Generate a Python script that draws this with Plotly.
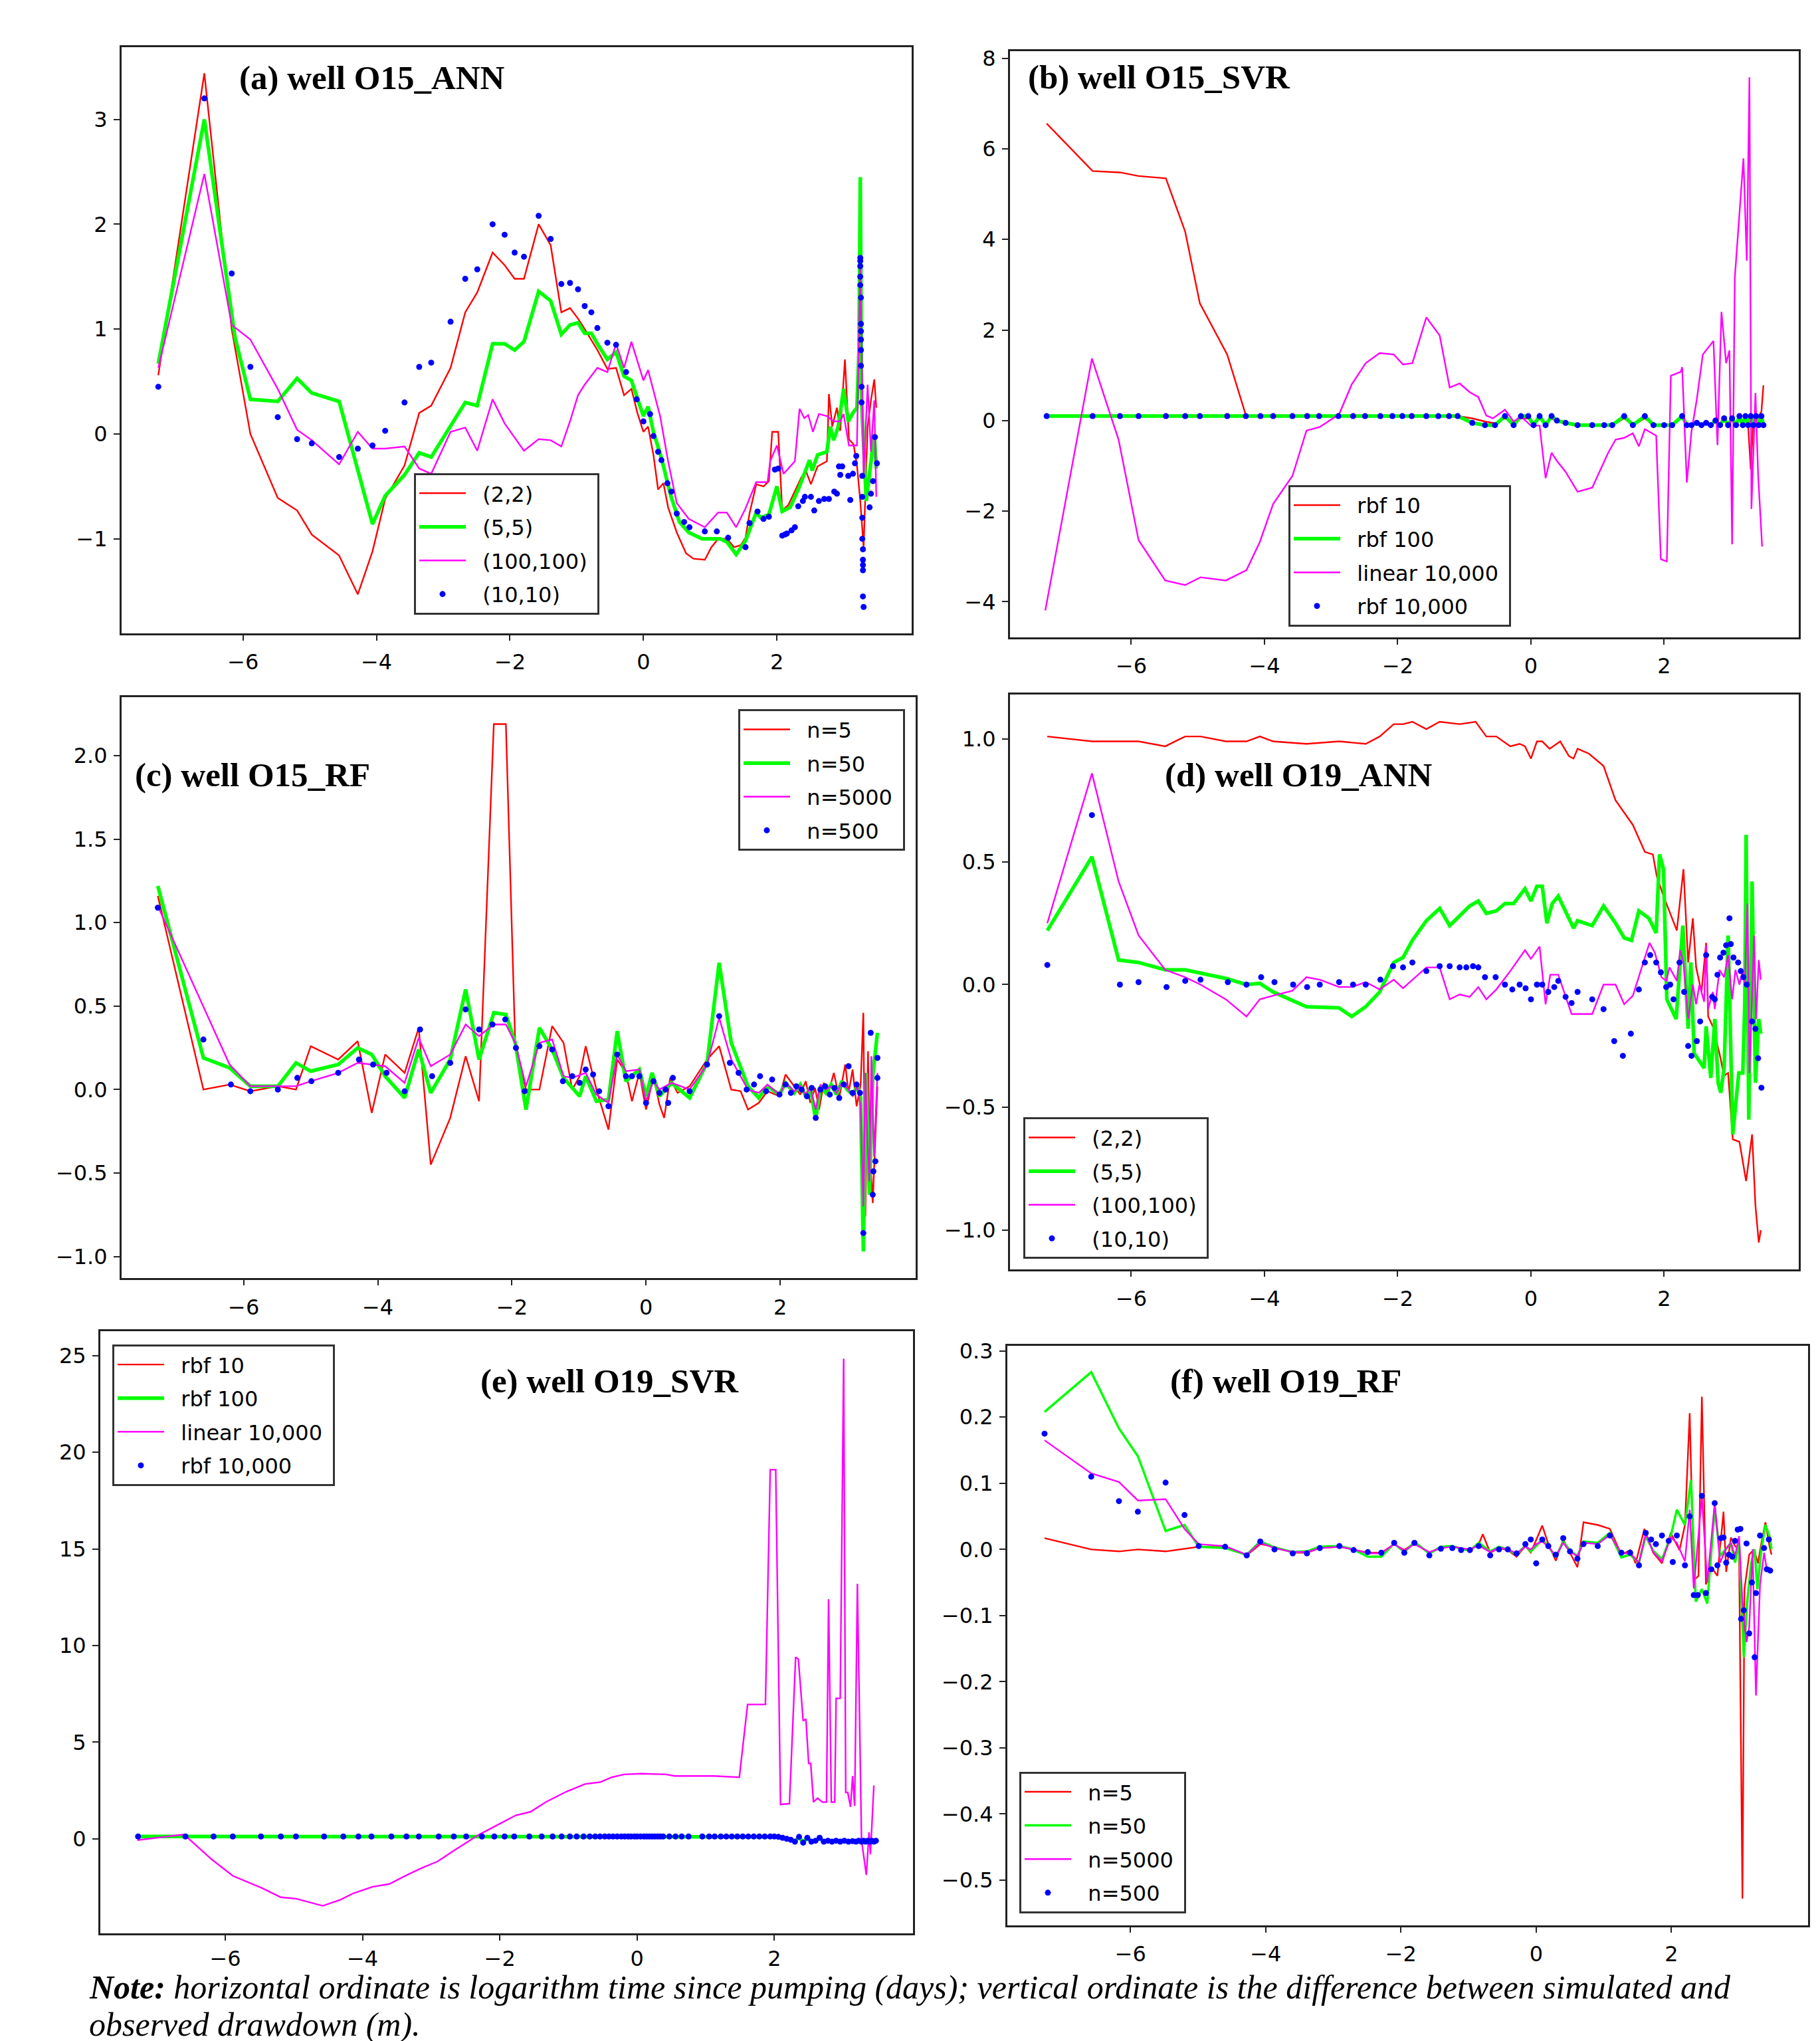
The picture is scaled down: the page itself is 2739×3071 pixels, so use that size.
import plotly.graph_objects as go

# ---------------- data: panel (a) well O15_ANN ----------------
a_red_x = [-7.27, -6.58, -6.17, -5.89, -5.48, -5.19, -4.97, -4.56, -4.28, -4.06,
           -3.87, -3.58, -3.36, -3.18, -2.89, -2.67, -2.49, -2.26, -2.08, -1.93,
           -1.79, -1.57, -1.39, -1.23, -1.10, -0.98, -0.88, -0.69, -0.54, -0.41,
           -0.29, -0.18, -0.09, 0.00, 0.07, 0.15, 0.22, 0.30, 0.37, 0.50,
           0.64, 0.75, 0.92, 1.02, 1.12, 1.25, 1.36, 1.46, 1.53, 1.59,
           1.69, 1.80, 1.88, 1.93, 2.02, 2.08, 2.17, 2.37, 2.44, 2.51,
           2.58, 2.61, 2.75, 2.78, 2.83, 2.90, 2.95, 3.02, 3.08, 3.15,
           3.20, 3.25, 3.30, 3.36, 3.41, 3.46, 3.49]
a_red_y = [0.56, 3.44, 1.00, 0.00, -0.61, -0.73, -0.96, -1.16, -1.53, -1.12,
           -0.62, -0.30, 0.20, 0.27, 0.63, 1.16, 1.35, 1.73, 1.61, 1.48,
           1.48, 2.00, 1.80, 1.16, 1.20, 1.10, 1.00, 0.80, 0.62, 0.63,
           0.37, 0.43, 0.20, 0.02, 0.07, -0.20, -0.53, -0.47, -0.70, -0.94,
           -1.14, -1.19, -1.20, -1.08, -1.00, -1.00, -1.08, -1.06, -0.99, -0.76,
           -0.48, -0.50, -0.45, 0.02, 0.02, -0.73, -0.68, -0.41, -0.36, -0.48,
           -0.36, -0.31, -0.26, 0.38, 0.07, 0.25, 0.03, 0.71, -0.05, -0.10,
           -0.30, -0.64, -1.08, 0.07, 0.32, 0.52, 0.25]
a_green_x = [-7.27, -6.58, -6.12, -5.89, -5.48, -5.19, -4.97, -4.56, -4.06, -3.87,
             -3.58, -3.36, -3.18, -2.89, -2.67, -2.49, -2.26, -2.08, -1.93, -1.79,
             -1.57, -1.39, -1.23, -1.10, -0.98, -0.88, -0.78, -0.69, -0.54, -0.41,
             -0.29, -0.18, 0.00, 0.07, 0.15, 0.27, 0.41, 0.54, 0.68, 0.88,
             1.15, 1.25, 1.39, 1.53, 1.69, 1.76, 1.88, 2.00, 2.08, 2.20,
             2.34, 2.49, 2.53, 2.61, 2.75, 2.80, 2.85, 2.92, 3.00, 3.07,
             3.14, 3.20, 3.23, 3.25, 3.27, 3.34, 3.39, 3.46, 3.49]
a_green_y = [0.67, 3.00, 0.92, 0.33, 0.31, 0.53, 0.39, 0.31, -0.86, -0.59,
             -0.39, -0.18, -0.22, 0.08, 0.30, 0.27, 0.86, 0.86, 0.80, 0.88,
             1.36, 1.27, 0.95, 1.04, 1.06, 0.96, 0.96, 0.86, 0.71, 0.78,
             0.55, 0.51, 0.17, 0.26, 0.02, -0.23, -0.59, -0.84, -0.94, -1.00,
             -1.00, -1.03, -1.15, -1.02, -0.75, -0.80, -0.77, -0.50, -0.74, -0.70,
             -0.50, -0.25, -0.35, -0.20, -0.17, 0.07, -0.06, 0.07, 0.43, 0.12,
             0.20, 0.25, 0.79, 2.45, 0.30, -0.64, -0.34, 0.00, -0.33]
a_mag_x = [-7.27, -6.58, -6.17, -5.89, -5.48, -5.19, -4.97, -4.56, -4.28, -4.06,
           -3.87, -3.58, -3.36, -3.18, -2.89, -2.67, -2.49, -2.26, -2.08, -1.79,
           -1.57, -1.39, -1.23, -1.10, -0.98, -0.88, -0.69, -0.54, -0.41, -0.29,
           -0.18, 0.00, 0.07, 0.25, 0.37, 0.50, 0.68, 0.92, 1.12, 1.25,
           1.39, 1.53, 1.69, 1.86, 1.90, 2.00, 2.10, 2.27, 2.34, 2.41,
           2.47, 2.54, 2.63, 2.75, 2.85, 2.95, 3.00, 3.08, 3.20, 3.25,
           3.30, 3.36, 3.41, 3.46, 3.49]
a_mag_y = [0.63, 2.48, 1.04, 0.90, 0.43, 0.04, -0.06, -0.29, 0.02, -0.14,
           -0.14, -0.12, -0.33, -0.38, 0.02, 0.06, -0.16, 0.33, 0.10, -0.16,
           -0.05, -0.06, -0.12, 0.12, 0.37, 0.47, 0.63, 0.59, 0.86, 0.63,
           0.88, 0.51, 0.61, 0.17, -0.26, -0.66, -0.81, -0.89, -0.75, -0.75,
           -0.89, -0.71, -0.46, -0.46, -0.26, -0.11, -0.38, -0.26, 0.24, 0.15,
           0.18, 0.02, 0.19, 0.17, 0.12, 0.12, 0.19, -0.11, -0.11, 1.60,
           -0.40, 0.47, -0.17, 0.32, -0.60]
a_dot_x = [-7.27, -6.58, -6.17, -5.89, -5.48, -5.19, -4.97, -4.56, -4.28, -4.06,
           -3.87, -3.58, -3.36, -3.18, -2.89, -2.67, -2.49, -2.26, -2.08, -1.93,
           -1.79, -1.57, -1.39, -1.23, -1.10, -0.98, -0.88, -0.78, -0.69, -0.54,
           -0.41, -0.26, -0.10, 0.00, 0.10, 0.15, 0.22, 0.27, 0.36, 0.42,
           0.50, 0.61, 0.69, 0.92, 1.10, 1.27, 1.53, 1.59, 1.71, 1.80,
           1.88, 1.97, 2.02, 2.08, 2.12, 2.15, 2.22, 2.27, 2.32, 2.39,
           2.42, 2.51, 2.56, 2.63, 2.71, 2.78, 2.86, 2.90, 2.93, 2.95,
           2.98, 3.07, 3.10, 3.14, 3.17, 3.19, 3.25, 3.25, 3.25, 3.25,
           3.25, 3.26, 3.26, 3.26, 3.26, 3.26, 3.26, 3.27, 3.27, 3.28,
           3.28, 3.28, 3.28, 3.29, 3.29, 3.29, 3.29, 3.29, 3.30, 3.39,
           3.41, 3.44, 3.47, 3.50]
a_dot_y = [0.45, 3.20, 1.53, 0.64, 0.16, -0.05, -0.09, -0.22, -0.14, -0.11,
           0.03, 0.30, 0.64, 0.68, 1.07, 1.48, 1.57, 2.00, 1.90, 1.73,
           1.69, 2.08, 1.86, 1.43, 1.44, 1.38, 1.22, 1.16, 1.01, 0.87,
           0.85, 0.59, 0.33, 0.12, 0.19, -0.02, -0.17, -0.25, -0.47, -0.55,
           -0.76, -0.84, -0.89, -0.93, -0.93, -0.99, -1.08, -0.85, -0.74, -0.81,
           -0.79, -0.34, -0.33, -0.97, -0.96, -0.95, -0.92, -0.89, -0.69, -0.64,
           -0.60, -0.60, -0.73, -0.64, -0.62, -0.62, -0.55, -0.57, -0.31, -0.39,
           -0.31, -0.40, -0.63, -0.38, -0.28, -0.21, 1.68, 1.65, 1.60, 1.50,
           1.42, 1.30, 1.05, 0.98, 0.90, 0.80, 0.65, 0.45, 0.30, -0.40,
           -0.60, -0.80, -1.00, -1.10, -1.20, -1.25, -1.30, -1.55, -1.65, -0.70,
           -0.57, -0.45, -0.03, -0.28]

# ---------------- data: panel (b) well O15_SVR ----------------
b_x = [-7.27, -6.58, -6.17, -5.89, -5.48, -5.19, -4.97, -4.56, -4.28, -4.06,
       -3.87, -3.58, -3.36, -3.18, -2.89, -2.67, -2.49, -2.26, -2.08, -1.93,
       -1.79, -1.57, -1.39, -1.23, -1.10,
       -0.88, -0.69, -0.54, -0.39, -0.26, -0.15, -0.04, 0.04, 0.13, 0.22,
       0.31, 0.39, 0.52, 0.70, 0.92, 1.10, 1.22, 1.40, 1.53, 1.71,
       1.84, 2.00, 2.12, 2.27, 2.34, 2.41, 2.49, 2.56, 2.63, 2.70,
       2.77, 2.84, 2.90, 2.96, 3.02, 3.08, 3.13, 3.18, 3.22, 3.26,
       3.30, 3.34, 3.38, 3.42, 3.46, 3.49]
b_red_y = [6.56, 5.51, 5.48, 5.40, 5.35, 4.17, 2.59, 1.46, 0.12, 0.10,
           0.10, 0.10, 0.10, 0.10, 0.10, 0.10, 0.10, 0.10, 0.10, 0.10,
           0.10, 0.10, 0.10, 0.10, 0.10,
           0.05, -0.02, -0.06, 0.05, -0.05, 0.05, 0.05, -0.05, 0.05, -0.05,
           0.05, -0.03, -0.05, -0.10, -0.10, -0.10, -0.10, 0.05, -0.10, 0.05,
           -0.10, -0.10, -0.10, 0.10, -0.10, -0.10, -0.05, -0.10, -0.05, -0.10,
           0.00, -0.10, 0.05, -0.10, 0.05, -0.10, 0.10, -0.10, 0.10, -0.10,
           -1.08, 0.10, -0.10, 0.10, 0.20, 0.78]
b_green_y = [0.10, 0.10, 0.10, 0.10, 0.10, 0.10, 0.10, 0.10, 0.10, 0.10,
             0.10, 0.10, 0.10, 0.10, 0.10, 0.10, 0.10, 0.10, 0.10, 0.10,
             0.10, 0.10, 0.10, 0.10, 0.10,
             -0.05, -0.10, -0.10, 0.10, -0.10, 0.10, 0.10, -0.10, 0.10, -0.10,
             0.10, 0.00, -0.05, -0.10, -0.10, -0.10, -0.10, 0.10, -0.10, 0.10,
             -0.10, -0.10, -0.10, 0.10, -0.10, -0.10, -0.05, -0.10, -0.05, -0.10,
             0.00, -0.10, 0.05, -0.10, 0.05, -0.10, 0.10, -0.10, 0.10, -0.10,
             0.10, -0.10, 0.10, -0.10, 0.10, -0.10]
b_dot_y = [0.10, 0.10, 0.10, 0.10, 0.10, 0.10, 0.10, 0.10, 0.10, 0.10,
           0.10, 0.10, 0.10, 0.10, 0.10, 0.10, 0.10, 0.10, 0.10, 0.10,
           0.10, 0.10, 0.10, 0.10, 0.10,
           -0.05, -0.10, -0.10, 0.10, -0.10, 0.10, 0.10, -0.10, 0.10, -0.10,
           0.10, 0.00, -0.05, -0.10, -0.10, -0.10, -0.10, 0.10, -0.10, 0.10,
           -0.10, -0.10, -0.10, 0.10, -0.10, -0.10, -0.05, -0.10, -0.05, -0.10,
           0.00, -0.10, 0.05, -0.10, 0.05, -0.10, 0.10, -0.10, 0.10, -0.10,
           0.10, -0.10, 0.10, -0.10, 0.10, -0.10]
b_mag_x = [-7.29, -6.59, -6.19, -5.89, -5.49, -5.19, -4.96, -4.58, -4.27, -4.07,
           -3.87, -3.58, -3.37, -3.17, -2.88, -2.69, -2.48, -2.27, -2.06, -1.92,
           -1.78, -1.57, -1.37, -1.22, -1.07, -0.92, -0.79, -0.67, -0.57, -0.39,
           -0.26, -0.15, 0.00, 0.13, 0.22, 0.31, 0.39, 0.52, 0.70, 0.92,
           1.16, 1.27, 1.40, 1.53, 1.62, 1.71, 1.88, 1.95, 2.04, 2.10,
           2.25, 2.27, 2.34, 2.41, 2.49, 2.58, 2.74, 2.80, 2.86, 2.93,
           2.98, 3.02, 3.06, 3.15, 3.19, 3.24, 3.28, 3.31, 3.37, 3.41,
           3.47]
b_mag_y = [-4.19, 1.37, -0.42, -2.64, -3.53, -3.63, -3.46, -3.53, -3.30, -2.68,
           -1.84, -1.22, -0.22, -0.14, 0.14, 0.80, 1.27, 1.49, 1.46, 1.24,
           1.27, 2.28, 1.88, 0.73, 0.82, 0.63, 0.52, 0.11, 0.05, 0.24,
           -0.02, 0.09, -0.11, -0.11, -1.27, -0.71, -0.89, -1.13, -1.57, -1.48,
           -0.71, -0.42, -0.38, -0.28, -0.57, -0.19, -0.33, -3.06, -3.11, 0.99,
           1.08, 1.18, -1.37, -0.24, 0.47, 1.46, 1.76, -0.54, 2.40, 1.27,
           1.55, -2.73, 3.15, 4.94, 5.79, 3.53, 7.58, -1.95, 0.61, -1.18,
           -2.78]

# ---------------- data: panel (c) well O15_RF ----------------
c_red_x = [-7.28, -6.60, -6.21, -5.90, -5.49, -5.22, -5.00, -4.59, -4.30, -4.09,
           -3.89, -3.60, -3.39, -3.21, -2.92, -2.69, -2.49, -2.27, -2.09, -1.95,
           -1.79, -1.59, -1.40, -1.23, -1.10, -0.99, -0.90, -0.74, -0.56, -0.43,
           -0.30, -0.21, -0.10, 0.00, 0.11, 0.20, 0.27, 0.36, 0.47, 0.65,
           0.91, 1.09, 1.27, 1.41, 1.52, 1.68, 1.81, 1.99, 2.08, 2.21,
           2.30, 2.38, 2.45, 2.52, 2.58, 2.65, 2.72, 2.80, 2.88, 2.97,
           3.02, 3.08, 3.14, 3.20, 3.24, 3.27, 3.31, 3.33, 3.38, 3.45]
c_red_y = [1.16, 0.00, 0.03, -0.01, 0.02, 0.00, 0.26, 0.18, 0.29, -0.14,
           0.21, 0.10, 0.37, -0.45, -0.17, 0.20, -0.07, 2.19, 2.19, 0.26,
           0.00, 0.00, 0.38, 0.28, 0.00, 0.08, 0.26, 0.00, -0.24, 0.18,
           0.10, -0.07, 0.10, -0.12, 0.08, -0.09, -0.17, 0.07, -0.02, 0.02,
           0.18, 0.26, 0.00, -0.01, -0.12, -0.08, -0.01, -0.04, 0.09, 0.02,
           -0.03, 0.05, -0.08, 0.01, -0.12, 0.04, -0.02, 0.10, -0.05, 0.15,
           -0.02, 0.12, -0.10, 0.03, 0.46, -0.76, 0.23, -0.30, -0.68, 0.02]
c_green_x = [-7.28, -6.60, -6.21, -5.90, -5.49, -5.22, -5.00, -4.59, -4.30, -4.09,
             -3.89, -3.60, -3.39, -3.21, -2.92, -2.69, -2.49, -2.27, -2.09, -1.95,
             -1.79, -1.59, -1.40, -1.23, -0.99, -0.90, -0.74, -0.56, -0.43, -0.30,
             -0.10, 0.00, 0.09, 0.20, 0.38, 0.65, 0.91, 1.09, 1.27, 1.52,
             1.68, 1.81, 1.99, 2.08, 2.21, 2.30, 2.38, 2.45, 2.53, 2.60,
             2.68, 2.76, 2.84, 2.92, 3.00, 3.08, 3.15, 3.20, 3.24, 3.28,
             3.33, 3.38, 3.45]
c_green_y = [1.22, 0.19, 0.13, 0.02, 0.02, 0.16, 0.11, 0.15, 0.25, 0.21,
             0.08, -0.05, 0.24, -0.02, 0.18, 0.60, 0.18, 0.46, 0.45, 0.28,
             -0.12, 0.37, 0.24, 0.07, -0.04, 0.08, -0.07, -0.06, 0.35, 0.05,
             0.12, -0.04, 0.10, -0.04, 0.04, -0.05, 0.16, 0.76, 0.28, 0.02,
             -0.05, 0.02, -0.03, 0.04, -0.02, 0.03, -0.04, 0.01, -0.18, 0.02,
             -0.02, 0.03, -0.03, 0.05, 0.00, -0.03, 0.02, -0.05, -0.97, 0.10,
             -0.63, 0.08, 0.34]
c_mag_x = [-7.28, -6.21, -5.90, -5.22, -5.00, -4.59, -4.30, -3.89, -3.60, -3.39,
           -3.21, -2.92, -2.69, -2.49, -2.27, -2.09, -1.95, -1.79, -1.59, -1.40,
           -1.23, -1.10, -0.90, -0.74, -0.56, -0.43, -0.30, -0.10, 0.00, 0.11,
           0.20, 0.38, 0.65, 0.91, 1.09, 1.27, 1.52, 1.68, 1.81, 1.99,
           2.08, 2.21, 2.30, 2.38, 2.45, 2.53, 2.60, 2.68, 2.76, 2.84,
           2.92, 3.00, 3.08, 3.15, 3.20, 3.24, 3.27, 3.30, 3.33, 3.36,
           3.40, 3.45]
c_mag_y = [1.10, 0.15, 0.02, 0.02, 0.05, 0.10, 0.16, 0.14, 0.04, 0.31,
           0.14, 0.21, 0.39, 0.32, 0.39, 0.39, 0.28, 0.02, 0.28, 0.30,
           0.08, 0.07, 0.10, -0.03, -0.08, 0.21, 0.11, 0.12, -0.07, 0.05,
           0.00, 0.04, 0.00, 0.15, 0.43, 0.18, 0.00, -0.02, 0.03, -0.03,
           0.04, -0.01, 0.02, -0.03, 0.01, -0.12, 0.03, 0.00, 0.02, -0.02,
           0.04, 0.01, -0.04, 0.02, -0.10, -0.70, 0.10, -0.30, -0.55, 0.20,
           -0.40, 0.10]
c_dot_x = [-7.28, -6.60, -6.19, -5.90, -5.49, -5.20, -4.99, -4.59, -4.28, -4.07,
           -3.87, -3.60, -3.37, -3.19, -2.92, -2.69, -2.49, -2.29, -2.10, -1.94,
           -1.81, -1.59, -1.40, -1.24, -1.10, -0.99, -0.90, -0.79, -0.70, -0.56,
           -0.43, -0.30, -0.21, -0.10, 0.00, 0.11, 0.20, 0.29, 0.33, 0.40,
           0.65, 0.91, 1.09, 1.25, 1.38, 1.50, 1.61, 1.70, 1.79, 1.88,
           1.99, 2.08, 2.16, 2.24, 2.32, 2.40, 2.47, 2.53, 2.60, 2.67,
           2.74, 2.81, 2.88, 2.95, 3.02, 3.08, 3.14, 3.19, 3.24, 3.35,
           3.38, 3.39, 3.42, 3.45, 3.45]
c_dot_y = [1.09, 0.30, 0.03, -0.01, 0.00, 0.07, 0.05, 0.10, 0.18, 0.15,
           0.10, -0.01, 0.36, 0.08, 0.16, 0.48, 0.36, 0.39, 0.42, 0.25,
           -0.01, 0.26, 0.24, 0.05, 0.08, 0.04, 0.12, 0.09, -0.01, -0.10,
           0.21, 0.08, 0.08, 0.08, -0.08, 0.05, -0.02, 0.00, -0.08, 0.07,
           -0.01, 0.15, 0.44, 0.16, 0.10, 0.00, 0.03, 0.08, -0.01, 0.06,
           -0.03, 0.03, -0.02, 0.02, 0.00, -0.04, 0.01, -0.17, 0.00, 0.02,
           -0.03, 0.01, -0.05, 0.03, 0.14, -0.02, 0.03, -0.02, -0.86, 0.34,
           -0.63, -0.49, -0.43, 0.19, 0.07]

# ---------------- data: panel (d) well O19_ANN ----------------
d_red_x = [-7.26, -6.59, -6.19, -5.89, -5.49, -5.19, -4.96, -4.58, -4.27, -4.07,
           -3.87, -3.37, -2.88, -2.48, -2.27, -2.06, -1.92, -1.78, -1.57, -1.37,
           -1.07, -0.83, -0.67, -0.52, -0.31, -0.17, -0.09, 0.00, 0.09, 0.17,
           0.28, 0.44, 0.57, 0.64, 0.70, 0.87, 1.09, 1.27, 1.53, 1.71,
           1.83, 1.89, 1.99, 2.19, 2.29, 2.36, 2.43, 2.48, 2.56, 2.63,
           2.66, 2.73, 2.83, 2.90, 2.96, 3.03, 3.13, 3.23, 3.32, 3.37,
           3.42, 3.45]
d_red_y = [1.01, 0.99, 0.99, 0.99, 0.97, 1.01, 1.01, 0.99, 0.99, 1.01,
           0.99, 0.98, 0.99, 0.98, 1.01, 1.06, 1.06, 1.07, 1.04, 1.07,
           1.06, 1.07, 1.01, 1.01, 0.97, 0.98, 0.97, 0.92, 0.99, 0.99,
           0.96, 0.99, 0.93, 0.92, 0.96, 0.94, 0.89, 0.75, 0.65, 0.54,
           0.53, 0.44, 0.36, 0.22, 0.47, 0.09, 0.27, 0.07, -0.03, 0.17,
           -0.13, -0.17, -0.28, -0.37, -0.36, -0.63, -0.64, -0.80, -0.61, -0.90,
           -1.05, -1.00]
d_green_x = [-7.26, -6.59, -6.19, -5.89, -5.49, -5.19, -4.58, -4.27, -4.07, -3.87,
             -3.37, -2.88, -2.69, -2.48, -2.27, -2.06, -1.92, -1.78, -1.57, -1.37,
             -1.22, -1.07, -0.92, -0.79, -0.67, -0.52, -0.39, -0.26, -0.09, 0.00,
             0.09, 0.17, 0.24, 0.32, 0.41, 0.64, 0.70, 0.92, 1.09, 1.27,
             1.40, 1.51, 1.62, 1.77, 1.88, 1.93, 1.99, 2.04, 2.18, 2.28,
             2.36, 2.40, 2.45, 2.60, 2.63, 2.70, 2.76, 2.81, 2.85, 2.90,
             2.96, 3.03, 3.12, 3.18, 3.21, 3.23, 3.27, 3.32, 3.37, 3.42,
             3.45]
d_green_y = [0.22, 0.52, 0.10, 0.09, 0.06, 0.06, 0.025, 0.00, 0.005, -0.03,
             -0.09, -0.095, -0.13, -0.09, -0.03, 0.09, 0.11, 0.18, 0.26, 0.31,
             0.24, 0.28, 0.32, 0.34, 0.29, 0.30, 0.33, 0.33, 0.39, 0.34,
             0.40, 0.40, 0.25, 0.33, 0.36, 0.23, 0.26, 0.24, 0.32, 0.25,
             0.19, 0.18, 0.30, 0.27, 0.21, 0.53, 0.47, -0.06, -0.14, 0.24,
             -0.18, 0.09, -0.28, -0.34, -0.17, -0.38, -0.14, -0.40, -0.44, -0.34,
             0.20, -0.61, -0.36, -0.36, -0.08, 0.61, -0.55, 0.42, -0.40, -0.14,
             -0.20]
d_mag_x = [-7.26, -6.59, -6.19, -5.89, -5.49, -5.19, -4.96, -4.58, -4.27, -4.07,
           -3.87, -3.58, -3.37, -3.17, -2.88, -2.69, -2.48, -2.27, -2.06, -1.92,
           -1.57, -1.37, -1.22, -1.07, -0.92, -0.79, -0.67, -0.52, -0.31, -0.09,
           0.00, 0.13, 0.22, 0.29, 0.41, 0.61, 0.92, 1.09, 1.27, 1.40,
           1.53, 1.78, 1.86, 1.96, 2.03, 2.08, 2.19, 2.24, 2.29, 2.36,
           2.43, 2.48, 2.53, 2.60, 2.63, 2.66, 2.73, 2.76, 2.83, 2.90,
           2.96, 3.02, 3.07, 3.13, 3.18, 3.21, 3.25, 3.28, 3.35, 3.38,
           3.42, 3.45]
d_mag_y = [0.25, 0.86, 0.42, 0.20, 0.06, 0.03, 0.00, -0.06, -0.13, -0.06,
           -0.045, -0.025, 0.03, 0.02, -0.01, -0.01, 0.01, -0.02, 0.02, -0.015,
           0.07, 0.07, -0.06, -0.04, -0.05, -0.01, -0.06, -0.02, 0.055, 0.14,
           0.105, 0.155, -0.08, 0.04, 0.04, -0.12, -0.12, 0.00, 0.00, -0.08,
           -0.045, 0.17, 0.13, 0.03, 0.015, 0.07, 0.015, 0.14, 0.09, -0.14,
           0.00, -0.08, 0.00, -0.07, 0.16, -0.10, -0.03, -0.10, 0.06, 0.03,
           0.12, -0.06, 0.06, 0.00, 0.06, 0.00, 0.33, -0.36, 0.20, -0.14,
           0.10, 0.02]
d_dot_x = [-7.26, -6.59, -6.17, -5.89, -5.47, -5.19, -4.96, -4.55, -4.27, -4.05,
           -3.85, -3.57, -3.36, -3.17, -2.88, -2.67, -2.48, -2.26, -2.07, -1.92,
           -1.78, -1.57, -1.37, -1.22, -1.07, -0.97, -0.87, -0.79, -0.69, -0.53,
           -0.39, -0.28, -0.17, -0.08, 0.00, 0.09, 0.17, 0.26, 0.35, 0.41,
           0.52, 0.61, 0.70, 0.92, 1.09, 1.25, 1.38, 1.50, 1.62, 1.71,
           1.79, 1.88, 1.95, 2.03, 2.09, 2.14, 2.23, 2.30, 2.36, 2.41,
           2.49, 2.54, 2.63, 2.72, 2.76, 2.80, 2.84, 2.89, 2.93, 2.98,
           3.00, 3.04, 3.11, 3.15, 3.19, 3.24, 3.32, 3.37, 3.41, 3.46]
d_dot_y = [0.08, 0.69, 0.00, 0.01, -0.01, 0.015, 0.02, 0.01, 0.00, 0.03,
           0.01, 0.00, -0.01, 0.00, 0.01, 0.00, 0.00, 0.02, 0.075, 0.07,
           0.09, 0.055, 0.075, 0.075, 0.07, 0.07, 0.075, 0.07, 0.03, 0.03,
           0.00, -0.02, 0.00, -0.015, -0.06, 0.00, 0.00, -0.03, -0.01, 0.015,
           -0.05, -0.075, -0.03, -0.06, -0.10, -0.23, -0.29, -0.20, -0.02, 0.09,
           0.12, 0.09, 0.05, -0.01, 0.00, -0.06, 0.09, -0.03, -0.25, -0.29,
           -0.23, -0.15, 0.12, -0.05, -0.06, 0.04, 0.11, 0.13, 0.16, 0.27,
           0.165, 0.11, 0.09, 0.055, 0.03, 0.00, -0.15, -0.18, -0.30, -0.42]

# ---------------- data: panel (e) well O19_SVR ----------------
e_x = [-7.27, -6.58, -6.17, -5.89, -5.48, -5.19, -4.97, -4.56, -4.28, -4.06,
       -3.87, -3.58, -3.36, -3.18, -2.89, -2.67, -2.49, -2.26, -2.08, -1.93,
       -1.79, -1.57, -1.39, -1.23, -1.10, -0.98, -0.88, -0.78, -0.69, -0.61,
       -0.54, -0.47, -0.41, -0.35, -0.29, -0.23, -0.18, -0.13, -0.09, -0.04,
       0.00, 0.05, 0.10, 0.14, 0.18, 0.22, 0.26, 0.30, 0.34, 0.38,
       0.47, 0.56, 0.65, 0.75, 0.95, 1.05, 1.13, 1.22, 1.30, 1.38,
       1.46, 1.54, 1.62, 1.70, 1.78, 1.86, 1.94, 2.00, 2.06, 2.12,
       2.18, 2.24, 2.30, 2.36, 2.42, 2.48, 2.54, 2.60, 2.66, 2.72,
       2.78, 2.84, 2.90, 2.96, 3.02, 3.08, 3.14, 3.19, 3.23, 3.27,
       3.30, 3.33, 3.36, 3.39, 3.42, 3.45, 3.48]
e_red_y = [0.12, 0.12, 0.12, 0.12, 0.12, 0.12, 0.12, 0.12, 0.12, 0.12,
           0.12, 0.12, 0.12, 0.12, 0.12, 0.12, 0.12, 0.12, 0.12, 0.12,
           0.12, 0.12, 0.12, 0.12, 0.12, 0.12, 0.12, 0.12, 0.12, 0.12,
           0.12, 0.12, 0.12, 0.12, 0.12, 0.12, 0.12, 0.12, 0.12, 0.12,
           0.12, 0.12, 0.12, 0.12, 0.12, 0.12, 0.12, 0.12, 0.12, 0.12,
           0.12, 0.12, 0.12, 0.12, 0.12, 0.12, 0.12, 0.12, 0.12, 0.12,
           0.12, 0.12, 0.12, 0.12, 0.12, 0.12, 0.12, 0.12, 0.10, 0.05,
           0.00, -0.05, -0.15, 0.10, -0.20, 0.05, -0.15, -0.10, 0.05, -0.15,
           -0.10, -0.15, -0.10, -0.15, -0.10, -0.15, -0.12, -0.15, -0.10, -0.15,
           -0.10, -0.15, -0.10, -0.15, -0.10, -0.15, -0.10]
e_green_y = [0.12, 0.12, 0.12, 0.12, 0.12, 0.12, 0.12, 0.12, 0.12, 0.12,
             0.12, 0.12, 0.12, 0.12, 0.12, 0.12, 0.12, 0.12, 0.12, 0.12,
             0.12, 0.12, 0.12, 0.12, 0.12, 0.12, 0.12, 0.12, 0.12, 0.12,
             0.12, 0.12, 0.12, 0.12, 0.12, 0.12, 0.12, 0.12, 0.12, 0.12,
             0.12, 0.12, 0.12, 0.12, 0.12, 0.12, 0.12, 0.12, 0.12, 0.12,
             0.12, 0.12, 0.12, 0.12, 0.12, 0.12, 0.12, 0.12, 0.12, 0.12,
             0.12, 0.12, 0.12, 0.12, 0.12, 0.12, 0.12, 0.12, 0.10, 0.05,
             0.00, -0.05, -0.15, 0.10, -0.20, 0.05, -0.15, -0.10, 0.05, -0.15,
             -0.10, -0.15, -0.10, -0.15, -0.10, -0.15, -0.12, -0.15, -0.10, -0.15,
             -0.10, -0.15, -0.10, -0.15, -0.10, -0.15, -0.10]
e_dot_y = [0.12, 0.12, 0.12, 0.12, 0.12, 0.12, 0.12, 0.12, 0.12, 0.12,
           0.12, 0.12, 0.12, 0.12, 0.12, 0.12, 0.12, 0.12, 0.12, 0.12,
           0.12, 0.12, 0.12, 0.12, 0.12, 0.12, 0.12, 0.12, 0.12, 0.12,
           0.12, 0.12, 0.12, 0.12, 0.12, 0.12, 0.12, 0.12, 0.12, 0.12,
           0.12, 0.12, 0.12, 0.12, 0.12, 0.12, 0.12, 0.12, 0.12, 0.12,
           0.12, 0.12, 0.12, 0.12, 0.12, 0.12, 0.12, 0.12, 0.12, 0.12,
           0.12, 0.12, 0.12, 0.12, 0.12, 0.12, 0.12, 0.12, 0.10, 0.05,
           0.00, -0.05, -0.15, 0.10, -0.20, 0.05, -0.15, -0.10, 0.05, -0.15,
           -0.10, -0.15, -0.10, -0.15, -0.10, -0.15, -0.12, -0.15, -0.10, -0.15,
           -0.10, -0.15, -0.10, -0.15, -0.10, -0.15, -0.10]
e_mag_x = [-7.28, -6.60, -6.20, -5.89, -5.47, -5.19, -4.97, -4.58, -4.32, -4.14,
           -3.86, -3.61, -3.35, -3.13, -2.91, -2.65, -2.30, -2.04, -1.77, -1.55,
           -1.33, -1.03, -0.76, -0.54, -0.37, -0.19, 0.07, 0.42, 0.55, 1.12,
           1.49, 1.61, 1.87, 1.94, 2.02, 2.09, 2.22, 2.31, 2.35, 2.42,
           2.46, 2.50, 2.53, 2.57, 2.63, 2.70, 2.76, 2.79, 2.83, 2.88,
           2.90, 2.96, 3.01, 3.04, 3.07, 3.11, 3.14, 3.17, 3.21, 3.27,
           3.34, 3.38, 3.40, 3.45]
e_mag_y = [-0.07, 0.22, -1.06, -1.92, -2.54, -3.03, -3.10, -3.47, -3.15, -2.83,
           -2.49, -2.34, -1.87, -1.50, -1.18, -0.57, 0.22, 0.71, 1.21, 1.40,
           1.90, 2.44, 2.83, 2.93, 3.18, 3.33, 3.37, 3.33, 3.25, 3.25,
           3.18, 6.95, 6.95, 19.10, 19.10, 1.77, 1.82, 9.40, 9.30, 6.10,
           6.20, 3.90, 3.90, 1.90, 2.10, 1.90, 1.90, 12.40, 1.90, 1.90,
           7.27, 7.27, 24.85, 2.40, 2.40, 1.65, 3.25, 1.70, 13.20, -0.07,
           -1.87, 0.34, -0.81, 2.76]

# ---------------- data: panel (f) well O19_RF ----------------
f_red_x = [-7.27, -6.58, -6.17, -5.89, -5.48, -5.20, -4.99, -4.60, -4.28, -4.08,
           -3.87, -3.60, -3.39, -3.20, -2.91, -2.70, -2.49, -2.29, -2.10, -1.95,
           -1.80, -1.58, -1.41, -1.24, -1.11, -0.98, -0.85, -0.79, -0.68, -0.55,
           -0.42, -0.29, -0.16, -0.08, 0.09, 0.18, 0.29, 0.40, 0.50, 0.61,
           0.70, 0.91, 1.09, 1.26, 1.39, 1.47, 1.60, 1.73, 1.86, 1.99,
           2.12, 2.20, 2.27, 2.33, 2.40, 2.45, 2.51, 2.59, 2.68, 2.77,
           2.81, 2.88, 2.94, 3.00, 3.05, 3.08, 3.15, 3.22, 3.28, 3.33,
           3.39, 3.45, 3.48]
f_red_y = [0.017, 0.000, -0.003, 0.000, -0.003, 0.001, 0.004, 0.004, -0.009, 0.008,
           0.004, -0.005, -0.005, 0.002, 0.004, 0.000, -0.005, -0.005, 0.008, -0.001,
           0.010, -0.005, 0.002, 0.005, 0.002, -0.001, 0.008, 0.023, -0.005, 0.002,
           -0.001, -0.011, 0.005, -0.005, 0.036, 0.008, -0.017, 0.015, -0.005, -0.027,
           0.041, 0.037, 0.031, -0.008, -0.001, -0.021, 0.031, -0.005, -0.021, 0.025,
           -0.001, 0.037, 0.206, -0.047, -0.040, 0.231, -0.053, -0.027, -0.040, 0.057,
           -0.034, 0.018, 0.005, 0.000, -0.528, -0.060, -0.008, 0.000, -0.021, 0.010,
           0.041, 0.005, -0.008]
f_green_x = [-7.27, -6.58, -6.17, -5.89, -5.48, -5.20, -4.99, -4.60, -4.28, -4.08,
             -3.87, -3.60, -3.39, -3.20, -2.91, -2.70, -2.49, -2.29, -2.10, -1.95,
             -1.80, -1.58, -1.41, -1.24, -1.11, -0.98, -0.85, -0.68, -0.55, -0.42,
             -0.29, -0.16, -0.08, 0.09, 0.18, 0.29, 0.40, 0.50, 0.61, 0.70,
             0.91, 1.09, 1.26, 1.39, 1.52, 1.62, 1.73, 1.86, 1.99, 2.08,
             2.20, 2.29, 2.36, 2.45, 2.53, 2.64, 2.72, 2.80, 2.88, 2.94,
             3.00, 3.07, 3.12, 3.18, 3.23, 3.27, 3.33, 3.39, 3.45, 3.48]
f_green_y = [0.208, 0.268, 0.183, 0.141, 0.028, 0.037, 0.004, 0.002, -0.008, 0.012,
             0.003, -0.004, -0.003, 0.004, 0.005, 0.000, -0.011, -0.011, 0.009, -0.004,
             0.011, -0.006, 0.004, 0.005, 0.001, -0.002, 0.010, -0.003, 0.004, 0.000,
             -0.008, 0.006, -0.003, 0.015, 0.005, -0.012, 0.012, -0.002, -0.010, 0.012,
             0.010, 0.025, -0.012, -0.008, -0.020, 0.020, -0.002, -0.015, 0.020, 0.060,
             0.037, 0.105, -0.079, -0.060, -0.082, 0.063, -0.010, 0.000, 0.010, -0.020,
             0.010, -0.163, -0.080, -0.020, 0.000, -0.060, 0.000, 0.037, 0.020, 0.000]
f_mag_x = [-7.27, -6.58, -6.17, -5.89, -5.48, -5.20, -4.99, -4.60, -4.28, -4.08,
           -3.87, -3.60, -3.39, -3.20, -2.91, -2.70, -2.49, -2.29, -2.10, -1.95,
           -1.80, -1.58, -1.41, -1.24, -1.11, -0.98, -0.85, -0.68, -0.55, -0.42,
           -0.29, -0.16, -0.08, 0.00, 0.09, 0.18, 0.29, 0.40, 0.50, 0.61,
           0.70, 0.91, 1.09, 1.26, 1.39, 1.52, 1.62, 1.73, 1.86, 1.99,
           2.08, 2.20, 2.27, 2.33, 2.45, 2.53, 2.64, 2.72, 2.80, 2.88,
           2.94, 3.00, 3.05, 3.11, 3.15, 3.20, 3.25, 3.31, 3.37, 3.41,
           3.46]
f_mag_y = [0.165, 0.115, 0.102, 0.074, 0.076, 0.031, 0.008, 0.005, -0.008, 0.010,
           0.002, -0.004, -0.004, 0.002, 0.004, 0.000, -0.006, -0.006, 0.008, -0.002,
           0.008, -0.004, 0.002, 0.004, 0.002, 0.000, 0.006, -0.004, 0.003, 0.000,
           -0.006, 0.004, 0.000, 0.008, 0.012, 0.004, -0.010, 0.010, -0.004, -0.010,
           0.010, 0.008, 0.022, -0.006, -0.006, -0.020, 0.024, -0.004, -0.018, 0.018,
           0.010, -0.018, 0.060, -0.059, 0.080, -0.050, 0.070, -0.020, 0.000, 0.010,
           -0.010, 0.020, -0.079, -0.140, -0.118, 0.000, -0.221, -0.053, -0.005, -0.030,
           -0.027]
f_dot_x = [-7.27, -6.58, -6.17, -5.89, -5.48, -5.20, -4.99, -4.60, -4.28, -4.08,
           -3.87, -3.60, -3.39, -3.20, -2.91, -2.70, -2.49, -2.29, -2.10, -1.95,
           -1.80, -1.58, -1.41, -1.24, -1.11, -0.98, -0.85, -0.68, -0.55, -0.42,
           -0.29, -0.16, -0.08, 0.00, 0.09, 0.18, 0.29, 0.40, 0.50, 0.61,
           0.70, 0.91, 1.09, 1.26, 1.39, 1.52, 1.62, 1.70, 1.77, 1.86,
           1.96, 2.02, 2.08, 2.20, 2.27, 2.33, 2.39, 2.45, 2.51, 2.59,
           2.64, 2.68, 2.73, 2.77, 2.81, 2.85, 2.90, 2.94, 2.98, 3.02,
           3.03, 3.07, 3.11, 3.15, 3.19, 3.23, 3.25, 3.31, 3.37, 3.41,
           3.44, 3.46]
f_dot_y = [0.175, 0.110, 0.073, 0.057, 0.101, 0.052, 0.005, 0.004, -0.009, 0.012,
           0.000, -0.006, -0.006, 0.002, 0.005, -0.001, -0.004, -0.005, 0.010, -0.005,
           0.010, -0.009, 0.001, 0.002, -0.001, -0.001, 0.005, -0.009, 0.000, 0.000,
           -0.006, 0.008, 0.015, -0.021, 0.015, 0.005, -0.008, 0.017, -0.003, -0.014,
           0.008, 0.005, 0.021, -0.005, -0.005, -0.024, 0.025, 0.015, 0.008, 0.021,
           0.013, -0.019, 0.021, -0.024, 0.050, -0.069, -0.069, 0.081, -0.066, -0.030,
           0.070, -0.024, 0.017, 0.018, -0.020, -0.008, -0.011, 0.013, 0.030, 0.031,
           -0.105, -0.092, 0.009, -0.127, -0.050, -0.163, -0.066, 0.021, 0.002, -0.030,
           0.015, -0.032]

# ---------------- labels ----------------
titles = ["(a) well O15_ANN", "(b) well O15_SVR", "(c) well O15_RF",
          "(d) well O19_ANN", "(e) well O19_SVR", "(f) well O19_RF"]
ann_names = ["(2,2)", "(5,5)", "(100,100)", "(10,10)"]
svr_names = ["rbf 10", "rbf 100", "linear 10,000", "rbf 10,000"]
rf_names = ["n=5", "n=50", "n=5000", "n=500"]
x_ticks = [-6, -4, -2, 0, 2]
note_line1 = ("<b><i>Note:</i></b><i> horizontal ordinate is logarithm time since pumping "
              "(days); vertical ordinate is the difference between simulated and</i>")
note_line2 = "<i>observed drawdown (m).</i>"

# ---------------- styling / layout ----------------
W, H = 2739, 3071
RED, GREEN, MAG, BLUE = "#ff0000", "#00ff00", "#ff00ff", "#0000ff"
TICKFONT = dict(family="DejaVu Sans", size=32, color="#000000")
THIN, THICK = 2.4, 5.5
PAD = "\u00a0\u00a0"


def dom(x0, x1, y0, y1):
    return [x0 / W, x1 / W], [1 - y1 / H, 1 - y0 / H]


panels = [
    dict(box=(175, 1364, 52, 937), yr=[-1.90, 3.69], yt=[-1, 0, 1, 2, 3], fmt="",
         tpos=(0.317, 0.948),
         leg=dict(x=615 / W, y=1 - 909 / H, xanchor="left", yanchor="bottom"),
         names=ann_names,
         series=[(a_red_x, a_red_y), (a_green_x, a_green_y), (a_mag_x, a_mag_y), (a_dot_x, a_dot_y)],
         gw=THICK),
    dict(box=(1512, 2699, 58, 943), yr=[-4.78, 8.16], yt=[-4, -2, 0, 2, 4, 6, 8], fmt="",
         tpos=(0.189, 0.955),
         leg=dict(x=1931 / W, y=1 - 927 / H, xanchor="left", yanchor="bottom"),
         names=svr_names,
         series=[(b_x, b_red_y), (b_x, b_green_y), (b_mag_x, b_mag_y), (b_x, b_dot_y)],
         gw=THICK),
    dict(box=(175, 1370, 1034, 1911), yr=[-1.13, 2.35], yt=[-1.0, -0.5, 0.0, 0.5, 1.0, 1.5, 2.0], fmt=".1f",
         tpos=(0.165, 0.867),
         leg=dict(x=1354 / W, y=1 - 1052 / H, xanchor="right", yanchor="top"),
         names=rf_names,
         series=[(c_red_x, c_red_y), (c_green_x, c_green_y), (c_mag_x, c_mag_y), (c_dot_x, c_dot_y)],
         gw=THICK),
    dict(box=(1512, 2699, 1030, 1898), yr=[-1.16, 1.18], yt=[-1.0, -0.5, 0.0, 0.5, 1.0], fmt=".1f",
         tpos=(0.366, 0.86),
         leg=dict(x=1532 / W, y=1 - 1882 / H, xanchor="left", yanchor="bottom"),
         names=ann_names,
         series=[(d_red_x, d_red_y), (d_green_x, d_green_y), (d_mag_x, d_mag_y), (d_dot_x, d_dot_y)],
         gw=THICK),
    dict(box=(143, 1366, 1991, 2900), yr=[-4.88, 26.27], yt=[0, 5, 10, 15, 20, 25], fmt="",
         tpos=(0.627, 0.917),
         leg=dict(x=161 / W, y=1 - 2011 / H, xanchor="left", yanchor="top"),
         names=svr_names,
         series=[(e_x, e_red_y), (e_x, e_green_y), (e_mag_x, e_mag_y), (e_x, e_dot_y)],
         gw=THICK),
    dict(box=(1508, 2713, 2013, 2888), yr=[-0.568, 0.308],
         yt=[-0.5, -0.4, -0.3, -0.2, -0.1, 0.0, 0.1, 0.2, 0.3], fmt=".1f",
         tpos=(0.348, 0.939),
         leg=dict(x=1526 / W, y=1 - 2870 / H, xanchor="left", yanchor="bottom"),
         names=rf_names,
         series=[(f_red_x, f_red_y), (f_green_x, f_green_y), (f_mag_x, f_mag_y), (f_dot_x, f_dot_y)],
         gw=3.5),
]

fig = go.Figure()
layout = dict(width=W, height=H, margin=dict(l=0, r=0, t=0, b=0),
              paper_bgcolor="white", plot_bgcolor="white", showlegend=True,
              annotations=[])

for i, p in enumerate(panels, start=1):
    sfx = "" if i == 1 else str(i)
    xd, yd = dom(*p["box"])
    common = dict(showline=True, linecolor="#222222", linewidth=3, mirror=True,
                  ticks="outside", tickwidth=2, tickcolor="#222222",
                  showgrid=False, zeroline=False, tickfont=TICKFONT)
    layout["xaxis" + sfx] = dict(domain=xd, range=[-7.82, 4.02], tickvals=x_ticks,
                                 anchor="y" + sfx, ticklen=8,
                                 ticklabelstandoff=0 if i == 5 else 5, **common)
    layout["yaxis" + sfx] = dict(domain=yd, range=p["yr"], tickvals=p["yt"],
                                 tickformat=p["fmt"], anchor="x" + sfx, ticklen=9,
                                 ticklabelstandoff=3, **common)
    legname = "legend" + sfx
    layout[legname] = dict(**p["leg"], bgcolor="rgba(255,255,255,0.85)",
                           bordercolor="#333333", borderwidth=3,
                           font=dict(family="DejaVu Sans", size=32, color="#000000"),
                           tracegroupgap=6, itemwidth=70, traceorder="grouped")
    styles = [
        dict(mode="lines", line=dict(color=RED, width=THIN)),
        dict(mode="lines", line=dict(color=GREEN, width=p["gw"])),
        dict(mode="lines", line=dict(color=MAG, width=THIN)),
        dict(mode="markers", marker=dict(color=BLUE, size=9)),
    ]
    for k, ((sx, sy), nm, st) in enumerate(zip(p["series"], p["names"], styles)):
        n = min(len(sx), len(sy))
        fig.add_trace(go.Scatter(x=sx[:n], y=sy[:n], name=PAD + nm + "\u00a0",
                                 xaxis="x" + sfx, yaxis="y" + sfx, legend=legname,
                                 legendgroup="p%d_%d" % (i, k), **st))
    layout["annotations"].append(dict(
        text="<b>" + titles[i - 1] + "</b>", xref="x" + sfx + " domain",
        yref="y" + sfx + " domain", x=p["tpos"][0], y=p["tpos"][1],
        xanchor="center", yanchor="middle", showarrow=False,
        font=dict(family="Liberation Serif", size=51, color="#000000")))

layout["annotations"].append(dict(
    text=note_line1, xref="paper", yref="paper", x=125 / W, y=1 - 2982 / H,
    xanchor="left", yanchor="middle", showarrow=False, borderpad=0,
    font=dict(family="Liberation Serif", size=50, color="#000000")))
layout["annotations"].append(dict(
    text=note_line2, xref="paper", yref="paper", x=125 / W, y=1 - 3038 / H,
    xanchor="left", yanchor="middle", showarrow=False, borderpad=0,
    font=dict(family="Liberation Serif", size=50, color="#000000")))

fig.update_layout(**layout)
fig.write_html("out.html")
